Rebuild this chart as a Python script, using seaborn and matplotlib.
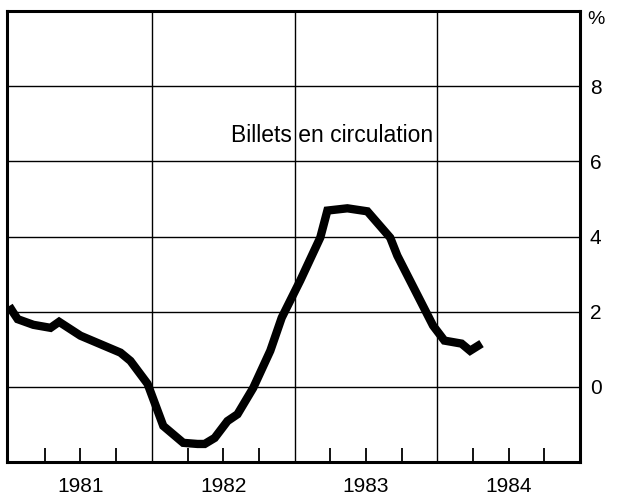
import matplotlib
matplotlib.use("Agg")
import matplotlib.pyplot as plt
import matplotlib.transforms as mtransforms
import numpy as np
import pandas as pd
import seaborn as sns

# Billets en circulation, %
dates = [1981.00, 1981.03, 1981.06, 1981.17, 1981.29, 1981.35, 1981.50, 1981.78,
         1981.85, 1981.97, 1982.08, 1982.22, 1982.32, 1982.37, 1982.44, 1982.53,
         1982.60, 1982.71, 1982.83, 1982.91, 1983.04, 1983.18, 1983.23, 1983.37,
         1983.51, 1983.67, 1983.72, 1983.97, 1984.05, 1984.17, 1984.23, 1984.31]
values = [2.15, 1.97, 1.80, 1.65, 1.57, 1.73, 1.36, 0.91,
          0.69, 0.08, -1.04, -1.49, -1.52, -1.52, -1.36, -0.91,
          -0.73, -0.03, 0.96, 1.84, 2.83, 3.97, 4.69, 4.75,
          4.67, 3.97, 3.49, 1.63, 1.23, 1.15, 0.96, 1.15]

years = [1981, 1982, 1983, 1984]
y_ticks = [0, 2, 4, 6, 8]
series_label = "Billets en circulation"

df = pd.DataFrame({"date": dates, "value": values})

sns.set_style("white")
plt.rcParams["font.family"] = ["Liberation Sans", "DejaVu Sans"]
plt.rcParams["text.color"] = "black"
plt.rcParams["xtick.color"] = "black"
plt.rcParams["ytick.color"] = "black"

fig = plt.figure(figsize=(6.26, 4.96), dpi=100)
ax = fig.add_axes([7 / 626, 34 / 496, 573 / 626, 451 / 496])

sns.lineplot(data=df, x="date", y="value", ax=ax, color="black",
             linewidth=6.0, solid_joinstyle="miter", solid_capstyle="butt")

ax.set_xlim(1980.985, 1985.0)
ax.set_ylim(-2, 10)

# gridlines at year boundaries and even percentages
ax.set_xticks([1982, 1983, 1984])
ax.set_xticklabels([])
ax.tick_params(axis="x", which="major", length=0)
ax.set_yticks(y_ticks + [10])
ax.grid(True, which="major", color="black", linewidth=1.0)

# quarter ticks, year labels in the middle of each year
quarters = [y + q for y in years for q in (0.25, 0.5, 0.75)]
ax.set_xticks(quarters, minor=True)
ax.set_xticklabels(["" if abs(q % 1 - 0.5) > 0.01 else str(int(q)) for q in quarters],
                   minor=True, fontsize=15)
ax.tick_params(axis="x", which="minor", bottom=True, direction="in", length=10,
               width=1.3, pad=11, color="black", labelcolor="black")

ax.yaxis.tick_right()
ax.set_yticklabels([str(v) for v in y_ticks] + [""], fontsize=15)
ax.tick_params(axis="y", which="major", length=0, pad=7, labelcolor="black")
ax.text(1.0 + 7 / 573, 10, "%", transform=mtransforms.blended_transform_factory(ax.transAxes, ax.transData),
        fontsize=14, ha="left", va="top", color="black")

for side in ("left", "right", "top", "bottom"):
    ax.spines[side].set_visible(True)
    ax.spines[side].set_color("black")
    ax.spines[side].set_linewidth(2.2)

ax.set_xlabel("")
ax.set_ylabel("")

ax.text(1983.26, 6.7, series_label, fontsize=16.5, ha="center", va="center",
        color="black")

fig.savefig("out.png", dpi=100)
